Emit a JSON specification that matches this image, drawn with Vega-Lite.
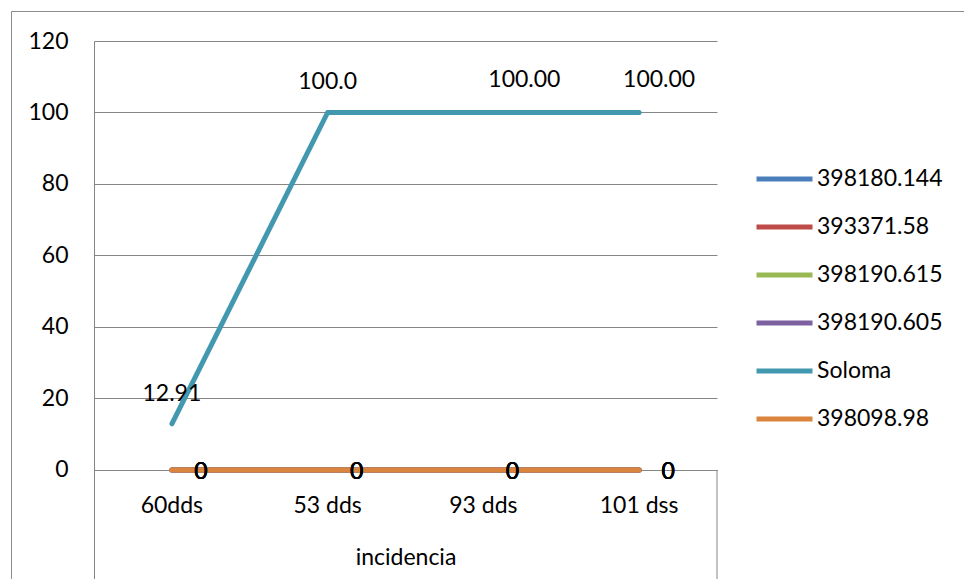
{
  "$schema": "https://vega.github.io/schema/vega-lite/v6.json",
  "width": 953,
  "height": 568,
  "autosize": "none",
  "padding": {"left": 11, "top": 11, "right": 0, "bottom": 0},
  "background": "white",
  "config": {
    "font": "Lato",
    "view": {"stroke": "#8c8c8c", "strokeWidth": 1},
    "axis": {
      "labelFont": "Lato",
      "labelFontSize": 23,
      "labelColor": "#000000",
      "titleFont": "Lato",
      "titleFontSize": 23,
      "titleFontWeight": "normal",
      "titleColor": "#000000",
      "domainColor": "#868686",
      "gridColor": "#868686",
      "gridOpacity": 1,
      "gridWidth": 1,
      "ticks": false
    },
    "legend": {
      "labelFont": "Lato",
      "labelFontSize": 23,
      "labelColor": "#000000",
      "labelLimit": 300
    }
  },
  "data": {
    "values": [
      {"series": "398180.144", "stage": "60dds", "value": 0, "label": "0"},
      {"series": "398180.144", "stage": "53 dds", "value": 0, "label": "0"},
      {"series": "398180.144", "stage": "93 dds", "value": 0, "label": "0"},
      {"series": "398180.144", "stage": "101 dss", "value": 0, "label": "0"},
      {"series": "393371.58", "stage": "60dds", "value": 0, "label": "0"},
      {"series": "393371.58", "stage": "53 dds", "value": 0, "label": "0"},
      {"series": "393371.58", "stage": "93 dds", "value": 0, "label": "0"},
      {"series": "393371.58", "stage": "101 dss", "value": 0, "label": "0"},
      {"series": "398190.615", "stage": "60dds", "value": 0, "label": "0"},
      {"series": "398190.615", "stage": "53 dds", "value": 0, "label": "0"},
      {"series": "398190.615", "stage": "93 dds", "value": 0, "label": "0"},
      {"series": "398190.615", "stage": "101 dss", "value": 0, "label": "0"},
      {"series": "398190.605", "stage": "60dds", "value": 0, "label": "0"},
      {"series": "398190.605", "stage": "53 dds", "value": 0, "label": "0"},
      {"series": "398190.605", "stage": "93 dds", "value": 0, "label": "0"},
      {"series": "398190.605", "stage": "101 dss", "value": 0, "label": "0"},
      {"series": "Soloma", "stage": "60dds", "value": 12.91, "label": "12.91"},
      {"series": "Soloma", "stage": "53 dds", "value": 100.0, "label": "100.0"},
      {"series": "Soloma", "stage": "93 dds", "value": 100.0, "label": "100.00"},
      {"series": "Soloma", "stage": "101 dss", "value": 100.0, "label": "100.00"},
      {"series": "398098.98", "stage": "60dds", "value": 0, "label": "0"},
      {"series": "398098.98", "stage": "53 dds", "value": 0, "label": "0"},
      {"series": "398098.98", "stage": "93 dds", "value": 0, "label": "0"},
      {"series": "398098.98", "stage": "101 dss", "value": 0, "label": "0"}
    ]
  },
  "encoding": {
    "x": {
      "field": "stage",
      "type": "nominal",
      "sort": ["60dds", "53 dds", "93 dds", "101 dss"],
      "scale": {"type": "band", "range": [83, 706], "paddingInner": 0, "paddingOuter": 0},
      "axis": {
        "orient": "bottom",
        "offset": -109,
        "title": "incidencia",
        "labelAngle": 0,
        "labelPadding": 24,
        "titlePadding": 29,
        "domain": true,
        "grid": false
      }
    },
    "y": {
      "field": "value",
      "type": "quantitative",
      "scale": {"domain": [-30.5, 120], "range": [568, 30], "nice": false, "zero": false},
      "axis": {
        "orient": "left",
        "offset": -83,
        "values": [0, 20, 40, 60, 80, 100, 120],
        "title": null,
        "grid": true,
        "domain": true,
        "labelPadding": 26
      }
    }
  },
  "layer": [
    {
      "transform": [{"filter": "datum.series === 'Soloma' && datum.stage === '101 dss'"}],
      "mark": {"type": "rule", "color": "#868686", "strokeWidth": 1},
      "encoding": {
        "x": {"field": "stage", "type": "nominal", "bandPosition": 1},
        "y": {"datum": 0},
        "y2": {"datum": -30.5}
      }
    },
    {
      "mark": {"type": "line", "strokeWidth": 5, "strokeCap": "round", "strokeJoin": "round"},
      "encoding": {
        "color": {
          "field": "series",
          "type": "nominal",
          "scale": {
            "domain": ["398180.144", "393371.58", "398190.615", "398190.605", "Soloma", "398098.98"],
            "range": ["#4a7ebb", "#be4b48", "#98b954", "#7d60a0", "#4198af", "#db843d"]
          },
          "legend": {
            "title": null,
            "orient": "none",
            "legendX": 743,
            "legendY": 144,
            "padding": 0,
            "symbolType": "stroke",
            "symbolSize": 3136,
            "symbolStrokeWidth": 5,
            "clipHeight": 48,
            "rowPadding": 0,
            "labelOffset": 2
          }
        }
      }
    },
    {
      "transform": [{"filter": "datum.series !== 'Soloma'"}],
      "mark": {"type": "text", "fontSize": 23, "font": "Lato", "color": "#000000", "dx": 29, "dy": 2, "baseline": "middle"},
      "encoding": {"text": {"field": "label"}}
    },
    {
      "transform": [{"filter": "datum.series === 'Soloma' && (datum.stage === '60dds' || datum.stage === '53 dds')"}],
      "mark": {"type": "text", "fontSize": 23, "font": "Lato", "color": "#000000", "dy": -30, "baseline": "middle"},
      "encoding": {"text": {"field": "label"}}
    },
    {
      "transform": [{"filter": "datum.series === 'Soloma' && datum.stage === '93 dds'"}],
      "mark": {"type": "text", "fontSize": 23, "font": "Lato", "color": "#000000", "dx": 41, "dy": -32, "baseline": "middle"},
      "encoding": {"text": {"field": "label"}}
    },
    {
      "transform": [{"filter": "datum.series === 'Soloma' && datum.stage === '101 dss'"}],
      "mark": {"type": "text", "fontSize": 23, "font": "Lato", "color": "#000000", "dx": 20, "dy": -32, "baseline": "middle"},
      "encoding": {"text": {"field": "label"}}
    }
  ]
}
